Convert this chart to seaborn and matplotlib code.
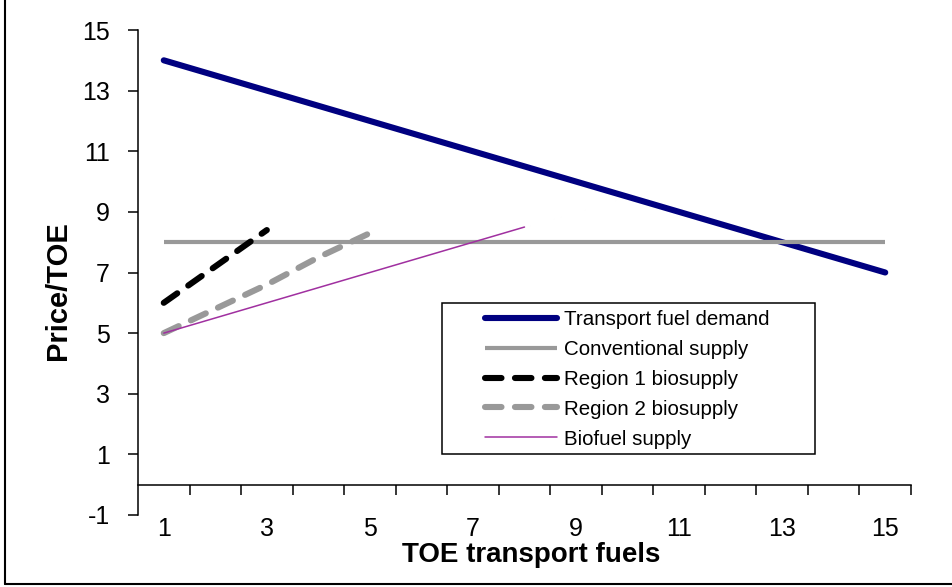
import numpy as np
import pandas as pd
import seaborn as sns
import matplotlib.pyplot as plt
from matplotlib.lines import Line2D
from matplotlib.patches import Rectangle

# Values
x_demand = [1, 2, 3, 4, 5, 6, 7, 8, 9, 10, 11, 12, 13, 14, 15]
demand = [14, 13.5, 13, 12.5, 12, 11.5, 11, 10.5, 10, 9.5, 9, 8.5, 8, 7.5, 7]
x_conv = [1, 2, 3, 4, 5, 6, 7, 8, 9, 10, 11, 12, 13, 14, 15]
conventional = [8, 8, 8, 8, 8, 8, 8, 8, 8, 8, 8, 8, 8, 8, 8]
x_region1 = [1, 2, 3]
region1 = [6.0, 7.2, 8.4]
x_region2 = [1, 2, 3, 4, 5]
region2 = [5.0, 5.8, 6.6, 7.5, 8.3]
x_biofuel = [1, 2, 3, 4, 5, 6, 7, 8]
biofuel = [5.0, 5.5, 6.0, 6.5, 7.0, 7.5, 8.0, 8.5]

y_ticks = [-1, 1, 3, 5, 7, 9, 11, 13, 15]
x_labels = [1, 3, 5, 7, 9, 11, 13, 15]

sns.set_style("white")
plt.rcParams['font.family'] = ['Liberation Sans', 'DejaVu Sans']
plt.rcParams['axes.unicode_minus'] = False

W, H = 952, 587
fig = plt.figure(figsize=(W / 100, H / 100), dpi=100)
ax = fig.add_axes([138 / W, 1 - 515 / H, (911 - 138) / W, (515 - 30) / H])

sns.lineplot(x=x_demand, y=demand, ax=ax, color='#000080', linewidth=4.4,
             solid_capstyle='round', label='Transport fuel demand')
sns.lineplot(x=x_conv, y=conventional, ax=ax, color='#999999', linewidth=3.0,
             solid_capstyle='butt', label='Conventional supply')
sns.lineplot(x=x_region1, y=region1, ax=ax, color='black', linewidth=4.4,
             linestyle=(0, (2.7, 2.2)), dash_capstyle='round',
             label='Region 1 biosupply')
sns.lineplot(x=x_region2, y=region2, ax=ax, color='#999999', linewidth=4.4,
             linestyle=(0, (2.7, 2.2)), dash_capstyle='round',
             label='Region 2 biosupply')
sns.lineplot(x=x_biofuel, y=biofuel, ax=ax, color='#A030A0', linewidth=1.1,
             label='Biofuel supply')

ax.set_xlim(0.5, 15.5)
ax.set_ylim(-1, 15)

# Excel style axes: y axis at the left, x axis crossing at y = 0
for s in ['top', 'right']:
    ax.spines[s].set_visible(False)
ax.spines['bottom'].set_position(('data', 0))
for s in ['left', 'bottom']:
    ax.spines[s].set_color('black')
    ax.spines[s].set_linewidth(1.1)

ax.set_yticks(y_ticks)
ax.tick_params(axis='y', left=True, direction='out', length=7.2, width=1.1,
               color='black', labelcolor='black', pad=13, labelsize=18)

# category style x axis: tick marks between categories, labels at centres
ax.set_xticks(np.arange(1.5, 16, 1.0))
ax.set_xticklabels([])
ax.set_xticks(x_labels, minor=True)
ax.set_xticklabels([str(v) for v in x_labels], minor=True)
ax.tick_params(axis='x', which='major', bottom=True, direction='out',
               length=7.2, width=1.1, color='black')
ax.tick_params(axis='x', which='minor', bottom=True, length=0, pad=23,
               labelsize=18, labelcolor='black')

ax.set_xlabel('')
ax.set_ylabel('')
fig.text(58 / W, 1 - 291 / H, 'Price/TOE', rotation=90, ha='center',
         va='center', fontsize=21, fontweight='bold', color='black')
fig.text(531 / W, 1 - 562 / H, 'TOE transport fuels', ha='center',
         va='baseline', fontsize=20, fontweight='bold', color='black')

leg = ax.legend(loc='upper left', bbox_to_anchor=(485 / W, 1 - 310 / H),
                bbox_transform=fig.transFigure, frameon=False, borderpad=0,
                borderaxespad=0, handlelength=3.5, handletextpad=0.35,
                labelspacing=0.53, fontsize=14.8)
for t in leg.get_texts():
    t.set_color('black')
fig.add_artist(Rectangle((442 / W, 1 - 454 / H), (815 - 442) / W,
                         (454 - 303) / H, transform=fig.transFigure,
                         fill=False, edgecolor='black', linewidth=1.1))

# chart area border (only left and bottom show in the crop)
fig.add_artist(Line2D([5 / W, 5 / W], [1 - 583.5 / H, 1], color='black',
                      linewidth=1.5, transform=fig.transFigure))
fig.add_artist(Line2D([5 / W, 1], [1 - 583.5 / H, 1 - 583.5 / H],
                      color='black', linewidth=1.5, transform=fig.transFigure))

fig.savefig('out.png', dpi=100)
